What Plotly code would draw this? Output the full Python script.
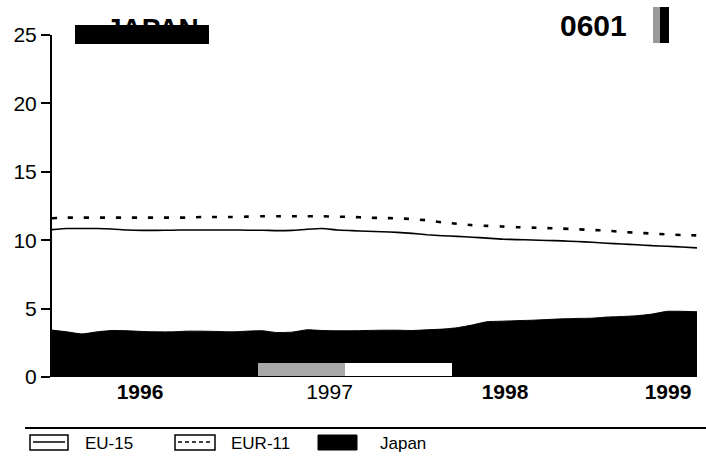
import plotly.graph_objects as go

# ---- data ----
months = list(range(44))
year_labels = ["<b>1996</b>", "1997", "<b>1998</b>", "<b>1999</b>"]
year_pos = [5.87, 18.5, 30.2, 41.07]

japan = [3.43, 3.30, 3.15, 3.30, 3.40, 3.38, 3.33, 3.30, 3.30, 3.35,
         3.35, 3.33, 3.30, 3.35, 3.38, 3.25, 3.28, 3.45, 3.40, 3.38,
         3.38, 3.40, 3.42, 3.42, 3.40, 3.45, 3.50, 3.60, 3.80, 4.04,
         4.08, 4.12, 4.15, 4.20, 4.25, 4.28, 4.30, 4.38, 4.42, 4.48,
         4.60, 4.80, 4.80, 4.77]
eu15 = [10.77, 10.85, 10.85, 10.85, 10.82, 10.75, 10.72, 10.72, 10.73, 10.75,
        10.75, 10.75, 10.75, 10.73, 10.73, 10.70, 10.72, 10.80, 10.85, 10.75,
        10.70, 10.65, 10.62, 10.57, 10.50, 10.40, 10.33, 10.28, 10.22, 10.15,
        10.08, 10.04, 10.02, 9.98, 9.95, 9.90, 9.85, 9.78, 9.72, 9.67,
        9.60, 9.56, 9.50, 9.44]
eur11 = [11.60, 11.65, 11.65, 11.65, 11.65, 11.65, 11.65, 11.65, 11.65, 11.65,
         11.70, 11.70, 11.70, 11.72, 11.75, 11.75, 11.75, 11.75, 11.75, 11.72,
         11.70, 11.65, 11.62, 11.60, 11.55, 11.45, 11.30, 11.20, 11.10, 11.05,
         11.00, 10.95, 10.92, 10.88, 10.85, 10.80, 10.75, 10.70, 10.60, 10.55,
         10.48, 10.42, 10.38, 10.35]

# ---- layout geometry (pixels) ----
W, H = 706, 464
L, R, T, B = 52, 697, 35, 377

def px(x):
    return (x - L) / (R - L)

def py(y):
    return (B - y) / (B - T)

FONT = "Liberation Sans, Arial, sans-serif"

fig = go.Figure()
fig.add_trace(go.Scatter(x=months, y=japan, mode="lines", fill="tozeroy",
                         fillcolor="black", line=dict(color="black", width=1, shape="spline", smoothing=0.5),
                         name="Japan", showlegend=False))
fig.add_trace(go.Scatter(x=months, y=eu15, mode="lines",
                         line=dict(color="black", width=1.6, shape="spline", smoothing=0.5),
                         name="EU-15", showlegend=False))
fig.add_trace(go.Scatter(x=months, y=eur11, mode="lines",
                         line=dict(color="black", width=2.6, dash="5px,11px", shape="spline", smoothing=0.5),
                         name="EUR-11", showlegend=False))

shapes = []
ann = []

def rect(x0, y0, x1, y1, fill, line_color=None, lw=0, layer="above"):
    shapes.append(dict(type="rect", xref="paper", yref="paper",
                       x0=px(x0), x1=px(x1), y0=py(y1), y1=py(y0),
                       fillcolor=fill, line=dict(color=line_color or fill, width=lw), layer=layer))

def hline(x0, x1, y, width=1.5, dash="solid"):
    shapes.append(dict(type="line", xref="paper", yref="paper",
                       x0=px(x0), x1=px(x1), y0=py(y), y1=py(y),
                       line=dict(color="black", width=width, dash=dash)))

def text(t, x, y, size, xanchor="left", bold=False):
    ann.append(dict(text=("<b>%s</b>" % t) if bold else t, xref="paper", yref="paper",
                    x=px(x), y=py(y), xanchor=xanchor, yanchor="middle", showarrow=False,
                    font=dict(family=FONT, size=size, color="black")))

# scan artifacts inside the area
rect(258, 363, 345, 376, "#a8a8a8")
rect(345, 363, 452, 376, "white")

# title block
text("JAPAN", 152, 28, 28, xanchor="center", bold=True)
rect(75, 25, 209, 44, "black")
text("0601", 593, 26, 30, xanchor="center", bold=True)
rect(653, 7, 660, 43, "#9a9a9a")
rect(660, 7, 669, 43, "black")

# legend separator
hline(25, 706, 428, width=2)

# legend
rect(30, 435, 68, 450, "white", "black", 1.5)
hline(33, 65, 442, width=1.5)
text("EU-15", 83, 443, 17)
rect(175, 435, 215, 450, "white", "black", 1.5)
hline(178, 212, 442, width=1.5, dash="4px,3px")
text("EUR-11", 229, 443, 17)
rect(318, 435, 357, 450, "black", "black", 1)
text("Japan", 378, 443, 17)

fig.update_layout(
    width=W, height=H,
    margin=dict(l=L, r=W - R, t=T, b=H - B, pad=0),
    paper_bgcolor="white", plot_bgcolor="white",
    showlegend=False,
    shapes=shapes, annotations=ann,
    xaxis=dict(range=[0, 43], showgrid=False, zeroline=False, showline=False,
               tickvals=year_pos, ticktext=year_labels, ticks="",
               tickfont=dict(family=FONT, size=21, color="black")),
    yaxis=dict(range=[0, 25], showgrid=False, zeroline=False, showline=True,
               linecolor="black", linewidth=2, ticks="outside", ticklen=9,
               tickwidth=2, tickcolor="black", tickvals=[0, 5, 10, 15, 20, 25],
               tickfont=dict(family=FONT, size=21, color="black")),
)

fig.write_html("out.html", config={"displayModeBar": False},
               post_script="document.body.style.margin='0';document.body.style.overflow='hidden';")
